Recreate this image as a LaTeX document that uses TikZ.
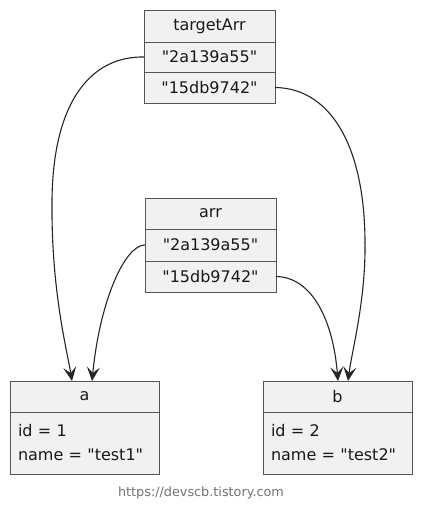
\documentclass[tikz,border=0pt]{standalone}
\usepackage{fontspec}
\setmainfont{DejaVu Sans}[Ligatures=TeXOff]
\usetikzlibrary{arrows.meta}
\definecolor{boxfill}{HTML}{F1F1F1}
\definecolor{boxline}{HTML}{555555}
\tikzset{
  cell/.style={draw=boxline, fill=boxfill, line width=0.8pt, inner sep=0pt, outer sep=0pt, font=\fontsize{16}{19}\selectfont, text=black!90},
  link/.style={draw=black!85, line width=1.1pt, -{Stealth[length=14pt,width=13pt,inset=6pt]}},
}
\begin{document}
\begin{tikzpicture}[x=1pt,y=-1pt]
\useasboundingbox[fill=white] (0,0) rectangle (422,512);
% targetArr
\node[cell, minimum width=131, minimum height=32] (t0) at (209.5,26) {targetArr};
\node[cell, minimum width=131, minimum height=30, anchor=north] (t1) at (t0.south) {"2a139a55"};
\node[cell, minimum width=131, minimum height=31, anchor=north] (t2) at (t1.south) {"15db9742"};
% arr
\node[cell, minimum width=131, minimum height=31] (r0) at (210.5,213.5) {arr};
\node[cell, minimum width=131, minimum height=32, anchor=north] (r1) at (r0.south) {"2a139a55"};
\node[cell, minimum width=131, minimum height=31, anchor=north] (r2) at (r1.south) {"15db9742"};
% a
\node[cell, minimum width=149, minimum height=31] (a0) at (84.5,396.5) {a};
\node[cell, minimum width=149, minimum height=62, anchor=north, align=left, text width=133] (a1) at (a0.south) {id = 1\\[5pt]name = "test1"};
% b
\node[cell, minimum width=149, minimum height=31] (b0) at (337.5,396.5) {b};
\node[cell, minimum width=149, minimum height=62, anchor=north, align=left, text width=133] (b1) at (b0.south) {id = 2\\[5pt]name = "test2"};
% arrows
\coordinate (aIn1) at (72,381);
\coordinate (aIn2) at (92,381);
\coordinate (bIn1) at (338,381);
\coordinate (bIn2) at (348,381);
\draw[link] (t1.west) .. controls (92,56) and (53,100) .. (52,200) .. controls (51,290) and (67,350) .. (aIn1);
\draw[link] (r1.west) .. controls (125,245) and (100,300) .. (aIn2);
\draw[link] (t2.east) .. controls (327,88) and (364,140) .. (365,240) .. controls (366,300) and (352,350) .. (bIn2);
\draw[link] (r2.east) .. controls (312,277) and (333,320) .. (bIn1);
% footer
\node[font=\fontsize{12.8}{15}\selectfont, text=black!55] (foot) at (201,493) {https://devscb.tistory.com};
\end{tikzpicture}
\end{document}
